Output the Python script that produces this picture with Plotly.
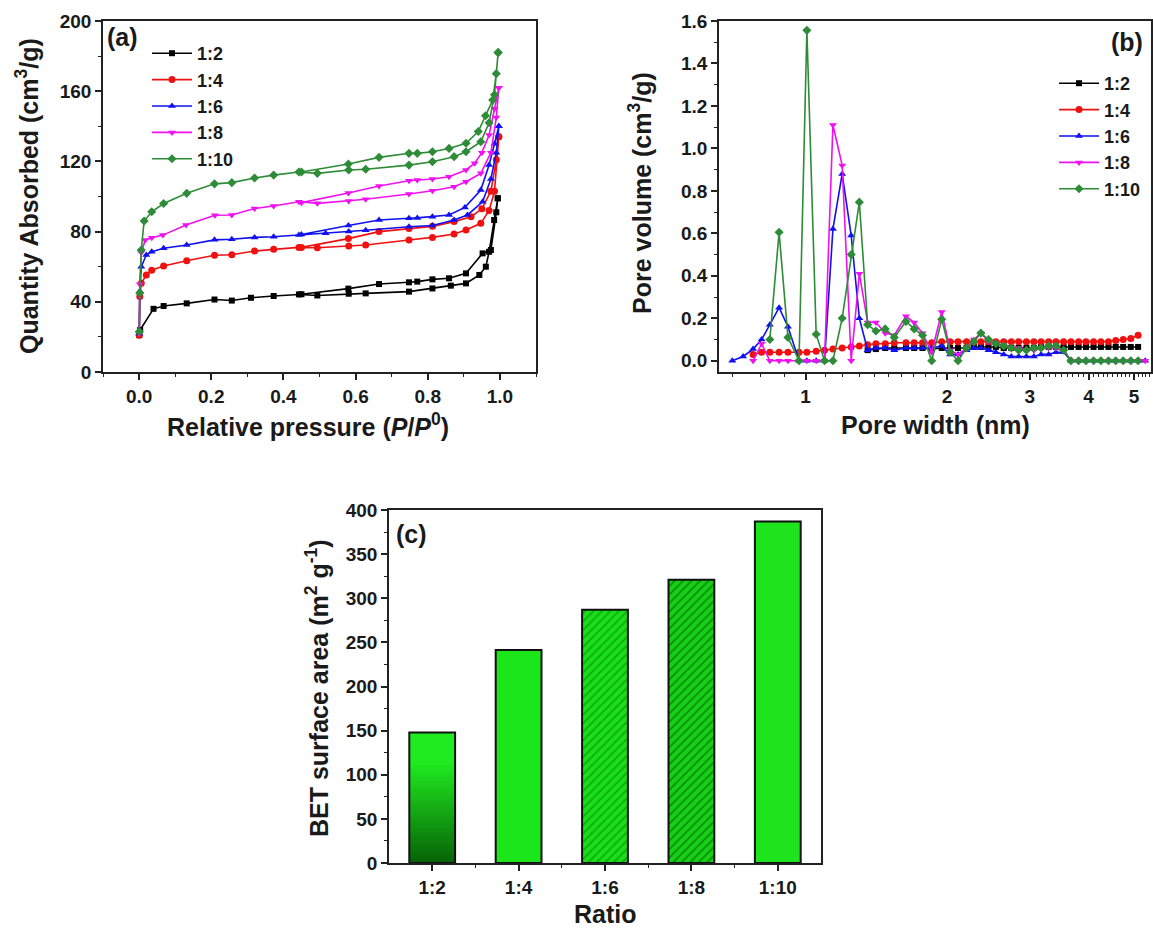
import plotly.graph_objects as go

# ---------------- DATA ----------------
SERIES = ["1:2", "1:4", "1:6", "1:8", "1:10"]
COLORS = ["#000000", "#f01010", "#1010f0", "#f010f0", "#2e8b37"]
SYMBOLS = ["square", "circle", "triangle-up", "triangle-down", "diamond"]

# (a) N2 isotherms: adsorption + desorption branches
ADS_X_12 = [0.0005, 0.003, 0.04, 0.068, 0.132, 0.209, 0.257, 0.31, 0.373, 0.443, 0.494, 0.581, 0.628, 0.748, 0.813, 0.864, 0.906, 0.943, 0.961, 0.97, 0.984, 0.994]
ADS_Y_12 = [21, 24, 36, 37.6, 39.1, 41.3, 40.7, 42.3, 43.3, 44.2, 43.6, 44.6, 44.8, 45.8, 47.6, 49.2, 50.5, 55.3, 60, 68.5, 86.6, 99]
DES_X_12 = [0.994, 0.99, 0.975, 0.952, 0.906, 0.859, 0.813, 0.771, 0.748, 0.665, 0.58, 0.45]
DES_Y_12 = [99, 91, 69.5, 67.6, 56.2, 53.4, 52.8, 51.5, 51.1, 50.1, 47.5, 44.3]

ADS_X_14 = [0.0005, 0.002, 0.006, 0.02, 0.035, 0.068, 0.132, 0.209, 0.257, 0.32, 0.373, 0.443, 0.494, 0.581, 0.628, 0.748, 0.813, 0.873, 0.906, 0.947, 0.97, 0.985, 0.997]
ADS_Y_14 = [21, 43, 50.5, 55.3, 58, 60.4, 63.4, 66.5, 66.8, 68.9, 69.9, 71, 70.8, 71.8, 72.4, 75.2, 76.7, 78.6, 80.9, 84.7, 92, 103, 134]
DES_X_14 = [0.997, 0.99, 0.975, 0.95, 0.92, 0.873, 0.813, 0.748, 0.665, 0.58, 0.45]
DES_Y_14 = [134, 121, 103, 93, 88.5, 85.7, 83, 81.8, 80, 76, 71]

ADS_X_16 = [0.0005, 0.002, 0.006, 0.02, 0.035, 0.068, 0.132, 0.209, 0.257, 0.32, 0.373, 0.443, 0.517, 0.581, 0.628, 0.748, 0.813, 0.873, 0.91, 0.952, 0.975, 0.99, 0.997]
ADS_Y_16 = [22, 46, 60, 66.7, 68.5, 70.5, 72.4, 75.3, 75.6, 76.7, 77.1, 78, 79, 80, 80.8, 82.8, 83.5, 86.6, 89.5, 97, 110, 125, 140]
DES_X_16 = [0.997, 0.985, 0.97, 0.947, 0.903, 0.859, 0.813, 0.771, 0.748, 0.665, 0.58, 0.45]
DES_Y_16 = [140, 130, 118, 103.7, 93.8, 89.5, 88.5, 87.8, 87.6, 86.6, 83.5, 78.3]

ADS_X_18 = [0.0005, 0.002, 0.006, 0.017, 0.035, 0.066, 0.13, 0.21, 0.257, 0.32, 0.373, 0.443, 0.494, 0.581, 0.628, 0.748, 0.813, 0.873, 0.906, 0.947, 0.975, 0.99, 0.997]
ADS_Y_18 = [22, 50, 68, 75.2, 76.5, 78, 83.8, 89.3, 89.5, 93.2, 94.6, 97, 96.1, 97.4, 98.4, 101.4, 103.3, 105.6, 108.4, 113.2, 125, 145, 162]
DES_X_18 = [0.997, 0.985, 0.97, 0.95, 0.93, 0.906, 0.859, 0.813, 0.771, 0.748, 0.665, 0.58, 0.45]
DES_Y_18 = [162, 150, 135, 125, 119, 115.1, 111.3, 110, 109.4, 109, 106, 102, 96.5]

ADS_X_110 = [0.0005, 0.002, 0.006, 0.014, 0.035, 0.068, 0.132, 0.209, 0.257, 0.32, 0.373, 0.443, 0.494, 0.581, 0.628, 0.748, 0.813, 0.873, 0.906, 0.947, 0.97, 0.985, 0.995]
ADS_Y_110 = [23, 45, 69.5, 86, 91.3, 96, 101.8, 107.2, 107.9, 110.5, 112.2, 114, 113.2, 115.1, 115.5, 117.9, 119.8, 122.7, 125.5, 131.2, 142, 158, 182]
DES_X_110 = [0.995, 0.99, 0.98, 0.96, 0.94, 0.906, 0.859, 0.813, 0.771, 0.748, 0.665, 0.58, 0.45]
DES_Y_110 = [182, 170, 155, 146, 137, 130.3, 127.4, 125.5, 124.6, 124.6, 122.3, 118.5, 114]

ISO_X = [ADS_X_12 + DES_X_12, ADS_X_14 + DES_X_14, ADS_X_16 + DES_X_16, ADS_X_18 + DES_X_18, ADS_X_110 + DES_X_110]
ISO_Y = [ADS_Y_12 + DES_Y_12, ADS_Y_14 + DES_Y_14, ADS_Y_16 + DES_Y_16, ADS_Y_18 + DES_Y_18, ADS_Y_110 + DES_Y_110]

# (b) pore size distribution (pore width, nm)
PORE_W = [0.698, 0.736, 0.773, 0.806, 0.839, 0.878, 0.917, 0.968, 1.006, 1.053,
          1.097, 1.143, 1.196, 1.25, 1.301, 1.355, 1.411, 1.477, 1.544, 1.635,
          1.702, 1.773, 1.855, 1.948, 2.03, 2.11, 2.2, 2.28, 2.36, 2.45,
          2.54, 2.64, 2.74, 2.84, 2.95, 3.06, 3.17, 3.29, 3.41, 3.54,
          3.67, 3.81, 3.95, 4.1, 4.25, 4.41, 4.57, 4.74, 4.92, 5.1, 5.28]
N = None
PV_12 = [N, N, N, N, N, N, N, N, N, N,
         N, N, N, N, N, 0.05, 0.055, 0.06, 0.06, 0.06,
         0.06, 0.06, 0.055, 0.06, 0.06, 0.06, 0.06, 0.065, 0.065, 0.065,
         0.065, 0.06, 0.06, 0.06, 0.06, 0.06, 0.065, 0.065, 0.065, 0.065,
         0.065, 0.065, 0.065, 0.065, 0.065, 0.065, 0.065, 0.065, 0.065, 0.065, N]
PV_14 = [N, N, 0.03, 0.04, 0.04, 0.04, 0.04, 0.04, 0.04, 0.045,
         0.05, 0.055, 0.06, 0.065, 0.07, 0.075, 0.08, 0.08, 0.085, 0.085,
         0.085, 0.085, 0.085, 0.09, 0.09, 0.09, 0.09, 0.09, 0.09, 0.09,
         0.09, 0.09, 0.09, 0.09, 0.09, 0.09, 0.09, 0.09, 0.09, 0.09,
         0.09, 0.09, 0.09, 0.09, 0.09, 0.09, 0.095, 0.1, 0.105, 0.12, N]
PV_16 = [0.0, 0.02, 0.055, 0.10, 0.17, 0.25, 0.16, 0.0, 0.0, 0.0,
         0.0, 0.62, 0.88, 0.59, 0.20, 0.05, 0.06, 0.06, 0.05, 0.06,
         0.06, 0.06, 0.06, 0.07, 0.03, 0.03, 0.05, 0.06, 0.06, 0.05,
         0.04, 0.03, 0.02, 0.02, 0.02, 0.02, 0.03, 0.03, 0.04, 0.04,
         0.0, 0.0, 0.0, 0.0, 0.0, 0.0, 0.0, 0.0, 0.0, 0.0, 0.0]
PV_18 = [N, N, 0.0, 0.08, 0.0, 0.0, 0.0, 0.0, 0.0, 0.0,
         0.0, 1.11, 0.92, 0.0, 0.41, 0.18, 0.18, 0.13, 0.12, 0.21,
         0.18, 0.13, 0.04, 0.23, 0.05, 0.03, 0.06, 0.10, 0.13, 0.09,
         0.08, 0.07, 0.06, 0.06, 0.05, 0.05, 0.06, 0.06, 0.06, 0.05,
         0.0, 0.0, 0.0, 0.0, 0.0, 0.0, 0.0, 0.0, 0.0, 0.0, 0.0]
PV_110 = [N, N, N, N, 0.10, 0.605, 0.11, 0.0, 1.556, 0.125,
          0.0, 0.0, 0.2, 0.5, 0.747, 0.17, 0.14, 0.15, 0.11, 0.185,
          0.15, 0.12, 0.0, 0.195, 0.04, 0.0, 0.06, 0.09, 0.13, 0.10,
          0.08, 0.07, 0.06, 0.05, 0.05, 0.06, 0.06, 0.07, 0.07, 0.05,
          0.0, 0.0, 0.0, 0.0, 0.0, 0.0, 0.0, 0.0, 0.0, 0.0, N]
PORE_V = [PV_12, PV_14, PV_16, PV_18, PV_110]

# (c) BET surface area
RATIOS = ["1:2", "1:4", "1:6", "1:8", "1:10"]
BET = [148, 241.5, 287, 321, 387]
BAR_COLORS = ["#20ea20", "#1ae61a", "#19de19", "#16cf16", "#1de41d"]
BAR_HATCH = ["", "", "/", "/", ""]
HATCH_COLORS = ["#1ae61a", "#1ae61a", "#0ea60e", "#0a850a", "#1ae61a"]

# ---------------- LAYOUT HELPERS ----------------
W, H = 1153, 934
FONT = "Liberation Sans, Arial, sans-serif"


def fx(p):
    return p / W


def fy(p):
    return 1 - p / H


BOX_A = (103, 536, 21, 372)
BOX_B = (719, 1151, 21, 372)
BOX_C = (389, 821, 510, 863)

fig = go.Figure()

for i, name in enumerate(SERIES):
    fig.add_trace(go.Scatter(
        x=ISO_X[i], y=ISO_Y[i], name=name, mode="lines+markers",
        line=dict(color=COLORS[i], width=1.6),
        marker=dict(symbol=SYMBOLS[i], size=7 if i != 0 else 6, color=COLORS[i]),
        xaxis="x", yaxis="y", legend="legend",
    ))

for i, name in enumerate(SERIES):
    fig.add_trace(go.Scatter(
        x=PORE_W, y=PORE_V[i], name=name, mode="lines+markers",
        line=dict(color=COLORS[i], width=1.6),
        marker=dict(symbol=SYMBOLS[i], size=7 if i != 0 else 6, color=COLORS[i]),
        connectgaps=False,
        xaxis="x2", yaxis="y2", legend="legend2",
    ))

XPOS = list(range(len(RATIOS)))
BAR_W = 0.53
for i in XPOS:
    pat = dict(shape=BAR_HATCH[i])
    if BAR_HATCH[i]:
        pat = dict(shape=BAR_HATCH[i], fgcolor=HATCH_COLORS[i], bgcolor=BAR_COLORS[i],
                   size=6, solidity=0.25, fillmode="replace")
    fig.add_trace(go.Bar(
        x=[XPOS[i]], y=[BET[i]], width=BAR_W, showlegend=False,
        marker=dict(color=BAR_COLORS[i], line=dict(width=0), pattern=pat),
        xaxis="x3", yaxis="y3", hoverinfo="skip",
    ))

# vertical colour gradient inside the first bar (dark at the bottom)
NL = 26
bright = (32, 234, 32)
dark = (6, 96, 6)
for k in range(NL):
    f = 0.78 * (1 - k / NL)
    t = 1 - f / 0.78
    c = tuple(int(bright[j] + (dark[j] - bright[j]) * t) for j in range(3))
    fig.add_trace(go.Bar(
        x=[XPOS[0]], y=[BET[0] * f], width=BAR_W, showlegend=False,
        marker=dict(color="rgb(%d,%d,%d)" % c, line=dict(width=0)),
        xaxis="x3", yaxis="y3", hoverinfo="skip",
    ))

fig.add_trace(go.Bar(
    x=XPOS, y=BET, width=BAR_W, showlegend=False,
    marker=dict(color="rgba(0,0,0,0)", line=dict(color="#111111", width=2)),
    xaxis="x3", yaxis="y3", hoverinfo="skip",
))

tickfont = dict(family=FONT, size=19, color="#1a1a1a", weight="bold")
axis_common = dict(showgrid=False, zeroline=False, showline=True, linecolor="#222222",
                   linewidth=1.5, mirror=True, ticks="outside", ticklen=6, tickwidth=1.5,
                   tickcolor="#222222", tickfont=tickfont, automargin=False)
minor_common = dict(ticks="outside", ticklen=3, tickwidth=1.2, tickcolor="#222222", showgrid=False)

fig.update_layout(
    width=W, height=H, margin=dict(l=0, r=0, t=0, b=0),
    paper_bgcolor="white", plot_bgcolor="white", barmode="overlay",
    font=dict(family=FONT, color="#1a1a1a"),
    xaxis=dict(domain=[fx(BOX_A[0]), fx(BOX_A[1])], anchor="y", range=[-0.1, 1.1],
               tickvals=[0, 0.2, 0.4, 0.6, 0.8, 1.0], tickformat=".1f",
               minor=dict(dtick=0.1, tick0=0, **minor_common), **axis_common),
    yaxis=dict(domain=[fy(BOX_A[3]), fy(BOX_A[2])], anchor="x", range=[0, 200],
               dtick=40, minor=dict(dtick=20, tick0=0, **minor_common), **axis_common),
    xaxis2=dict(domain=[fx(BOX_B[0]), fx(BOX_B[1])], anchor="y2", type="log",
                range=[-0.1844, 0.735], tickvals=[1, 2, 3, 4, 5],
                minor=dict(tickvals=[v / 10 for v in range(7, 56) if v % 10 != 0], **minor_common),
                **axis_common),
    yaxis2=dict(domain=[fy(BOX_B[3]), fy(BOX_B[2])], anchor="x2", range=[-0.053, 1.6],
                dtick=0.2, tick0=0, tickformat=".1f",
                minor=dict(dtick=0.1, tick0=0, **minor_common), **axis_common),
    xaxis3=dict(domain=[fx(BOX_C[0]), fx(BOX_C[1])], anchor="y3", range=[-0.5, 4.5],
                tickvals=XPOS, ticktext=RATIOS,
                minor=dict(tickvals=[p + 0.5 for p in XPOS[:-1]], **minor_common), **axis_common),
    yaxis3=dict(domain=[fy(BOX_C[3]), fy(BOX_C[2])], anchor="x3", range=[0, 400],
                dtick=50, minor=dict(dtick=25, tick0=0, **minor_common), **axis_common),
    legend=dict(x=fx(147), y=fy(35), xanchor="left", yanchor="top",
                bgcolor="rgba(0,0,0,0)", itemwidth=40, tracegroupgap=0,
                font=dict(family=FONT, size=18, color="#1a1a1a", weight="bold")),
    legend2=dict(x=fx(1054), y=fy(65), xanchor="left", yanchor="top",
                 bgcolor="rgba(0,0,0,0)", itemwidth=40, tracegroupgap=0,
                 font=dict(family=FONT, size=18, color="#1a1a1a", weight="bold")),
)

title_font = dict(family=FONT, size=25, color="#1a1a1a", weight="bold")
label_font = dict(family=FONT, size=25, color="#1a1a1a", weight="bold")
annos = [
    dict(text="Relative pressure (<i>P</i>/<i>P</i><sup>0</sup>)", x=fx(308), y=fy(425), font=title_font),
    dict(text="Quantity Absorbed (cm<sup>3</sup>/g)", x=fx(27), y=fy(196), font=title_font, textangle=-90),
    dict(text="Pore width (nm)", x=fx(935), y=fy(425), font=title_font),
    dict(text="Pore volume (cm<sup>3</sup>/g)", x=fx(640), y=fy(193), font=title_font, textangle=-90),
    dict(text="Ratio", x=fx(605), y=fy(914), font=title_font),
    dict(text="BET surface area (m<sup>2</sup> g<sup>-1</sup>)", x=fx(317), y=fy(688), font=title_font, textangle=-90),
    dict(text="(a)", x=fx(122), y=fy(37), font=label_font),
    dict(text="(b)", x=fx(1127), y=fy(42), font=label_font),
    dict(text="(c)", x=fx(411), y=fy(534), font=label_font),
]
for a in annos:
    fig.add_annotation(xref="paper", yref="paper", showarrow=False,
                       xanchor="center", yanchor="middle", **a)

fig.write_html("out.html", config={"displayModeBar": False},
               post_script="document.body.style.margin='0px';")
